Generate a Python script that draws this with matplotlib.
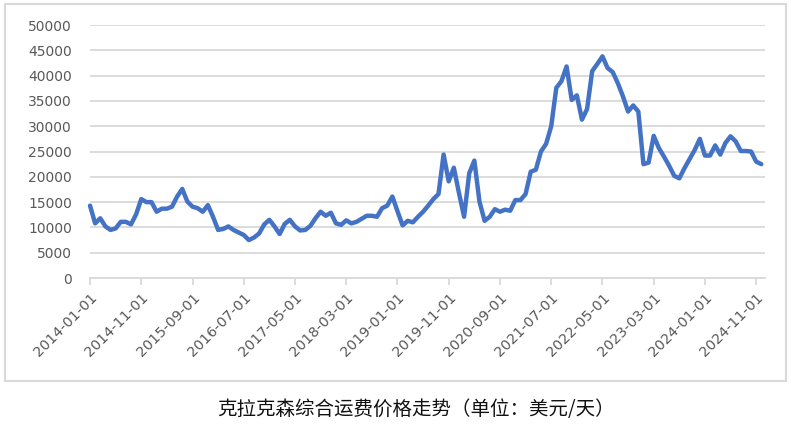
import matplotlib

matplotlib.use("Agg")
import matplotlib.pyplot as plt
import pandas as pd
from matplotlib.patches import Rectangle

plt.rcParams["font.family"] = ["DejaVu Sans", "Noto Sans CJK SC"]

# monthly ClarkSea index, USD/day
dates = pd.date_range("2014-01-01", "2024-12-01", freq="MS")
values = [
    14300, 10800, 11800, 10200, 9500, 9800, 11100, 11100, 10600, 12600,
    15600, 15000, 15000, 13100, 13700, 13700, 14100, 16100, 17600, 15100,
    14100, 13800, 13100, 14400, 12100, 9500, 9700, 10200, 9500, 9000,
    8500, 7500, 8000, 8800, 10600, 11500, 10200, 8700, 10700, 11500,
    10200, 9400, 9500, 10300, 11800, 13100, 12300, 12900, 10800, 10500,
    11400, 10800, 11100, 11700, 12300, 12300, 12100, 13800, 14300, 16100,
    13200, 10400, 11300, 11000, 12100, 13100, 14300, 15600, 16600, 24400,
    19100, 21800, 16800, 12100, 20700, 23200, 15100, 11300, 12100, 13600,
    13100, 13500, 13300, 15400, 15400, 16600, 21000, 21400, 25000, 26500,
    30000, 37600, 38900, 41800, 35200, 36100, 31300, 33400, 40900, 42300,
    43800, 41500, 40700, 38500, 35900, 32900, 34100, 32900, 22500, 22800,
    28100, 25700, 24000, 22200, 20200, 19700, 21700, 23500, 25300, 27500,
    24200, 24200, 26200, 24400, 26700, 28000, 27000, 25100, 25100, 25000,
    23000, 22500,
]
title = "克拉克森综合运费价格走势（单位：美元/天）"

grid_color = "#d9d9d9"
text_color = "#595959"

fig = plt.figure(figsize=(7.91, 4.26), dpi=100)
ax = fig.add_axes([0.1138, 0.3474, 0.967 - 0.1138, 0.9413 - 0.3474])

x = list(range(len(values)))
ax.plot(x, values, color="#4472C4", linewidth=3.2, solid_joinstyle="round",
        solid_capstyle="round", clip_on=False)

ax.set_ylim(0, 50000)
ax.set_yticks(range(0, 50001, 5000))
ax.set_xlim(0, 131.7)
tick_pos = x[::10]
ax.set_xticks(tick_pos)
ax.set_xticklabels([dates[i].strftime("%Y-%m-%d") for i in tick_pos],
                   rotation=45, ha="right", rotation_mode="anchor")

ax.grid(axis="y", color=grid_color, linewidth=1.3)
ax.set_axisbelow(True)
for side in ["top", "right", "left"]:
    ax.spines[side].set_visible(False)
ax.spines["bottom"].set_color(grid_color)
ax.spines["bottom"].set_linewidth(1.3)
ax.tick_params(axis="y", length=0, pad=13, labelsize=10, labelcolor=text_color)
ax.tick_params(axis="x", length=5, width=1.3, color=grid_color, pad=4,
               labelsize=10.3, labelcolor=text_color)

# chart frame
fig.patches.append(Rectangle((5 / 791, 1 - 381 / 426), 781 / 791, 377 / 426,
                             transform=fig.transFigure, fill=False,
                             edgecolor=grid_color, linewidth=1.5))

fig.text(416 / 791, 1 - 410 / 426, title, ha="center", va="center",
         fontsize=14, color="#111111", family=["Noto Sans CJK SC", "DejaVu Sans"])

fig.savefig("out.png", dpi=100)
